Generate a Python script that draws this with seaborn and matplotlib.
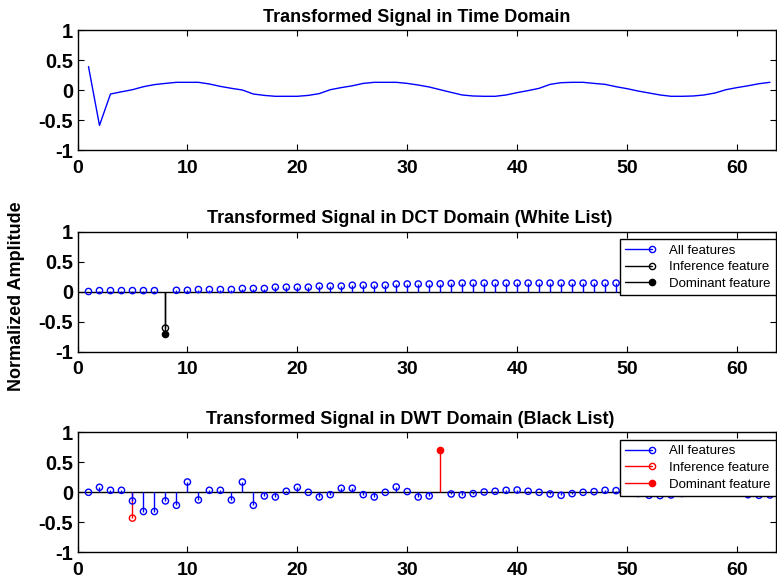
import numpy as np
import pandas as pd
import seaborn as sns
import matplotlib
matplotlib.use("Agg")
import matplotlib.pyplot as plt
from matplotlib.lines import Line2D
from matplotlib.legend_handler import HandlerBase

# ---------------- data ----------------
idx = list(range(1, 64))

time_signal = [0.39, -0.59, -0.067, -0.03, 0.005, 0.055, 0.09, 0.11, 0.128, 0.128,
               0.128, 0.10, 0.06, 0.028, 0.0, -0.067, -0.09, -0.105, -0.105, -0.105,
               -0.09, -0.06, 0.005, 0.04, 0.07, 0.11, 0.128, 0.128, 0.128, 0.11,
               0.083, 0.05, 0.005, -0.04, -0.083, -0.10, -0.105, -0.105, -0.083, -0.044,
               -0.01, 0.028, 0.094, 0.122, 0.128, 0.128, 0.11, 0.094, 0.055, 0.022,
               -0.017, -0.05, -0.083, -0.105, -0.105, -0.10, -0.083, -0.05, 0.005, 0.04,
               0.07, 0.105, 0.128]

dct_all_x = [1, 2, 3, 4, 5, 6, 7] + list(range(9, 64))
dct_all = [0.0, 0.015, 0.015, 0.015, 0.015, 0.015, 0.015,
           0.02, 0.02, 0.033, 0.033, 0.033, 0.033, 0.05, 0.05, 0.05, 0.072,
           0.072, 0.072, 0.072, 0.09, 0.09, 0.09, 0.105, 0.105, 0.105, 0.105,
           0.125, 0.125, 0.125, 0.125, 0.128, 0.135, 0.14, 0.14, 0.14, 0.14,
           0.14, 0.14, 0.14, 0.14, 0.14, 0.14, 0.14, 0.14, 0.14, 0.14,
           0.14, 0.14, 0.14, 0.145, 0.145, 0.145, 0.145, 0.145, 0.15, 0.15,
           0.15, 0.15, 0.15, 0.15, 0.15]
dct_inf_x, dct_inf = [8], [-0.61]
dct_dom_x, dct_dom = [8], [-0.705]

dwt_all_x = list(range(1, 33)) + list(range(34, 64))
dwt_all = [0.0, 0.083, 0.033, 0.033, -0.144, -0.32, -0.32, -0.144, -0.217, 0.172,
           -0.128, 0.033, 0.033, -0.128, 0.172, -0.217, -0.061, -0.078, 0.017, 0.083,
           0.0, -0.078, -0.039, 0.067, 0.067, -0.039, -0.078, 0.0, 0.089, 0.012,
           -0.078, -0.061,
           -0.028, -0.042, -0.022, 0.005, 0.017, 0.033, 0.038, 0.017, 0.0, -0.028,
           -0.05, -0.022, 0.0, 0.011, 0.033, 0.028, 0.01, -0.02, -0.05, -0.055,
           -0.045, -0.02, 0.0, 0.02, 0.03, 0.02, 0.0, -0.04, -0.05, -0.045]
dwt_inf_x, dwt_inf = [5], [-0.43]
dwt_dom_x, dwt_dom = [33], [0.706]

titles = ["Transformed Signal in Time Domain",
          "Transformed Signal in DCT Domain (White List)",
          "Transformed Signal in DWT Domain (Black List)"]
legend_labels = ["All features", "Inference feature", "Dominant feature"]
xticks = [0, 10, 20, 30, 40, 50, 60]
yticks = [-1, -0.5, 0, 0.5, 1]
ytick_labels = ["-1", "-0.5", "0", "0.5", "1"]

# ---------------- style ----------------
sns.set_theme(style="white")
plt.rcParams["font.family"] = ["Liberation Sans", "DejaVu Sans"]
plt.rcParams["axes.unicode_minus"] = False
plt.rcParams["text.color"] = "black"
plt.rcParams["axes.labelcolor"] = "black"
plt.rcParams["xtick.color"] = "black"
plt.rcParams["ytick.color"] = "black"

W, H = 777, 579
fig = plt.figure(figsize=(W / 100, H / 100), dpi=100)

def axes_box(top_px, bottom_px):
    left_px, right_px = 77.5, 776.0
    return [left_px / W, 1 - bottom_px / H, (right_px - left_px) / W, (bottom_px - top_px) / H]

ax1 = fig.add_axes(axes_box(30, 150))
ax2 = fig.add_axes(axes_box(231.5, 351.5))
ax3 = fig.add_axes(axes_box(432.3, 552.3))

BLUE = (0, 0, 1)
MS = 4.5

def style_axis(ax, title, title_x):
    ax.set_xlim(0, 63.55)
    ax.set_ylim(-1, 1)
    ax.set_xticks(xticks)
    ax.set_xticklabels([str(t) for t in xticks], fontweight="bold", fontsize=14)
    ax.set_yticks(yticks)
    ax.set_yticklabels(ytick_labels, fontweight="bold", fontsize=14.5)
    ax.tick_params(direction="in", length=4, width=0.8, top=True, right=True,
                   bottom=True, left=True, colors="black")
    ax.tick_params(axis="x", pad=7)
    ax.tick_params(axis="y", pad=3)
    for s in ax.spines.values():
        s.set_color("black")
        s.set_linewidth(1.0)
    ax.set_title(title, fontweight="bold", fontsize=13, pad=6, color="black", x=title_x)
    ax.set_xlabel("")
    ax.set_ylabel("")

# top panel
df_t = pd.DataFrame({"x": idx, "y": time_signal})
sns.lineplot(data=df_t, x="x", y="y", ax=ax1, color=BLUE, linewidth=1.0)
style_axis(ax1, titles[0], 0.485)


def stems(ax, xs, ys, color, filled, ms=MS, lw=1.0, z=3):
    ax.vlines(xs, 0, ys, colors=[color], linewidth=lw, zorder=z)
    df = pd.DataFrame({"x": xs, "y": ys})
    sns.scatterplot(data=df, x="x", y="y", ax=ax, marker="o", s=ms ** 2,
                    facecolor=(color if filled else "none"), edgecolor=color,
                    linewidth=1.0, zorder=z + 1)


class StemHandler(HandlerBase):
    def create_artists(self, legend, orig_handle, xdescent, ydescent, width, height,
                       fontsize, trans):
        y = height / 2 - ydescent
        color = orig_handle.get_color()
        mfc = orig_handle.get_markerfacecolor()
        line = Line2D([-xdescent, width - xdescent], [y, y], color=color, lw=1.0)
        mk = Line2D([width - xdescent], [y], marker="o", color=color, mfc=mfc,
                    mec=color, ms=MS, mew=1.0, linestyle="none")
        line.set_transform(trans)
        mk.set_transform(trans)
        return [line, mk]


def add_legend(ax, color):
    handles = [Line2D([], [], color=BLUE, marker="o", mfc="none"),
               Line2D([], [], color=color, marker="o", mfc="none"),
               Line2D([], [], color=color, marker="o", mfc=color)]
    leg = ax.legend(handles, legend_labels, loc="upper right",
                    bbox_to_anchor=(1.0, 0.935), borderaxespad=0.0,
                    handler_map={Line2D: StemHandler()}, fontsize=9.5,
                    handlelength=2.1, handletextpad=1.3, labelspacing=0.33,
                    borderpad=0.38, frameon=True, fancybox=False, shadow=False)
    fr = leg.get_frame()
    fr.set_edgecolor("black")
    fr.set_linewidth(1.0)
    fr.set_facecolor("white")
    fr.set_alpha(1.0)
    leg.set_zorder(10)

# middle panel
ax2.axhline(0, color="black", linewidth=1.0, zorder=2)
stems(ax2, dct_all_x, dct_all, BLUE, False)
stems(ax2, dct_dom_x, dct_dom, "black", True)
stems(ax2, dct_inf_x, dct_inf, "black", False)
style_axis(ax2, titles[1], 0.476)
add_legend(ax2, "black")
ax2.set_ylabel("Normalized Amplitude", fontweight="bold", fontsize=13, color="black")
ax2.yaxis.set_label_coords(-0.075, 0.46)

# bottom panel
ax3.axhline(0, color="black", linewidth=1.0, zorder=2)
stems(ax3, dwt_all_x, dwt_all, BLUE, False)
stems(ax3, dwt_inf_x, dwt_inf, "red", False, z=2)
stems(ax3, dwt_dom_x, dwt_dom, "red", True)
style_axis(ax3, titles[2], 0.476)
add_legend(ax3, "red")

fig.savefig("out.png", dpi=100)
